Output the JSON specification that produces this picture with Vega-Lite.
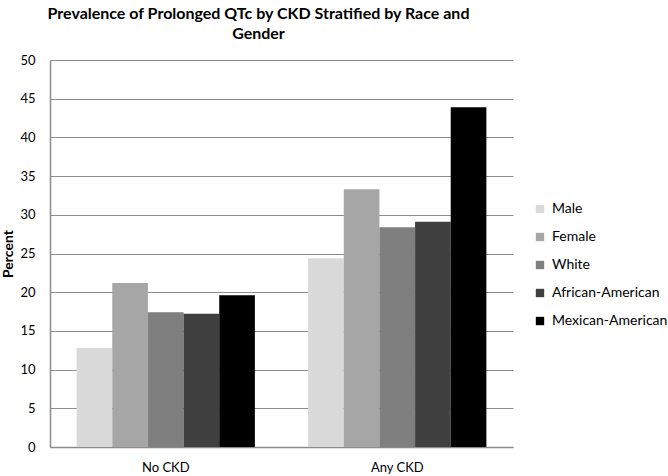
{
  "$schema": "https://vega.github.io/schema/vega-lite/v6.json",
  "autosize": "none",
  "width": 463,
  "height": 387,
  "padding": {"left": 50, "top": 60, "right": 155, "bottom": 29},
  "background": "white",
  "config": {"font": "Lato", "view": {"stroke": null}},
  "title": {
    "text": ["Prevalence of Prolonged QTc by CKD Stratified by Race and", "Gender"],
    "fontSize": 16,
    "fontWeight": "bold",
    "font": "Lato",
    "color": "#000000",
    "lineHeight": 20,
    "offset": 12,
    "dx": -23,
    "anchor": "middle"
  },
  "data": {
    "values": [
      {"group": "No CKD", "series": "Male", "value": 12.8},
      {"group": "No CKD", "series": "Female", "value": 21.2},
      {"group": "No CKD", "series": "White", "value": 17.4},
      {"group": "No CKD", "series": "African-American", "value": 17.2},
      {"group": "No CKD", "series": "Mexican-American", "value": 19.6},
      {"group": "Any CKD", "series": "Male", "value": 24.4},
      {"group": "Any CKD", "series": "Female", "value": 33.3},
      {"group": "Any CKD", "series": "White", "value": 28.4},
      {"group": "Any CKD", "series": "African-American", "value": 29.1},
      {"group": "Any CKD", "series": "Mexican-American", "value": 43.9}
    ]
  },
  "mark": {"type": "bar"},
  "encoding": {
    "x": {
      "field": "group",
      "type": "nominal",
      "sort": ["No CKD", "Any CKD"],
      "scale": {"paddingInner": 0.23, "paddingOuter": 0.115},
      "axis": {
        "title": null,
        "labelAngle": 0,
        "labelFontSize": 13,
        "labelColor": "#000000",
        "labelPadding": 14,
        "ticks": false,
        "domainColor": "#8c8c8c",
        "domainWidth": 1.5
      }
    },
    "xOffset": {
      "field": "series",
      "type": "nominal",
      "sort": ["Male", "Female", "White", "African-American", "Mexican-American"],
      "scale": {"paddingInner": 0, "paddingOuter": 0}
    },
    "y": {
      "field": "value",
      "type": "quantitative",
      "scale": {"domain": [0, 50], "nice": false},
      "axis": {
        "title": "Percent",
        "titleFontSize": 14,
        "titleFontWeight": "bold",
        "titleColor": "#000000",
        "titlePadding": 4,
        "values": [0, 5, 10, 15, 20, 25, 30, 35, 40, 45, 50],
        "labelFontSize": 13,
        "labelColor": "#000000",
        "labelPadding": 15,
        "ticks": false,
        "grid": true,
        "gridColor": "#8c8c8c",
        "gridWidth": 1.2,
        "domainColor": "#8c8c8c",
        "domainWidth": 1.5
      }
    },
    "color": {
      "field": "series",
      "type": "nominal",
      "sort": ["Male", "Female", "White", "African-American", "Mexican-American"],
      "scale": {
        "domain": ["Male", "Female", "White", "African-American", "Mexican-American"],
        "range": ["#d9d9d9", "#a6a6a6", "#7f7f7f", "#404040", "#000000"]
      },
      "legend": {
        "title": null,
        "orient": "none",
        "legendX": 483,
        "legendY": 142,
        "symbolType": "square",
        "symbolSize": 70,
        "symbolStrokeWidth": 0,
        "labelFontSize": 14,
        "labelColor": "#000000",
        "rowPadding": 14,
        "labelOffset": 5
      }
    }
  }
}
